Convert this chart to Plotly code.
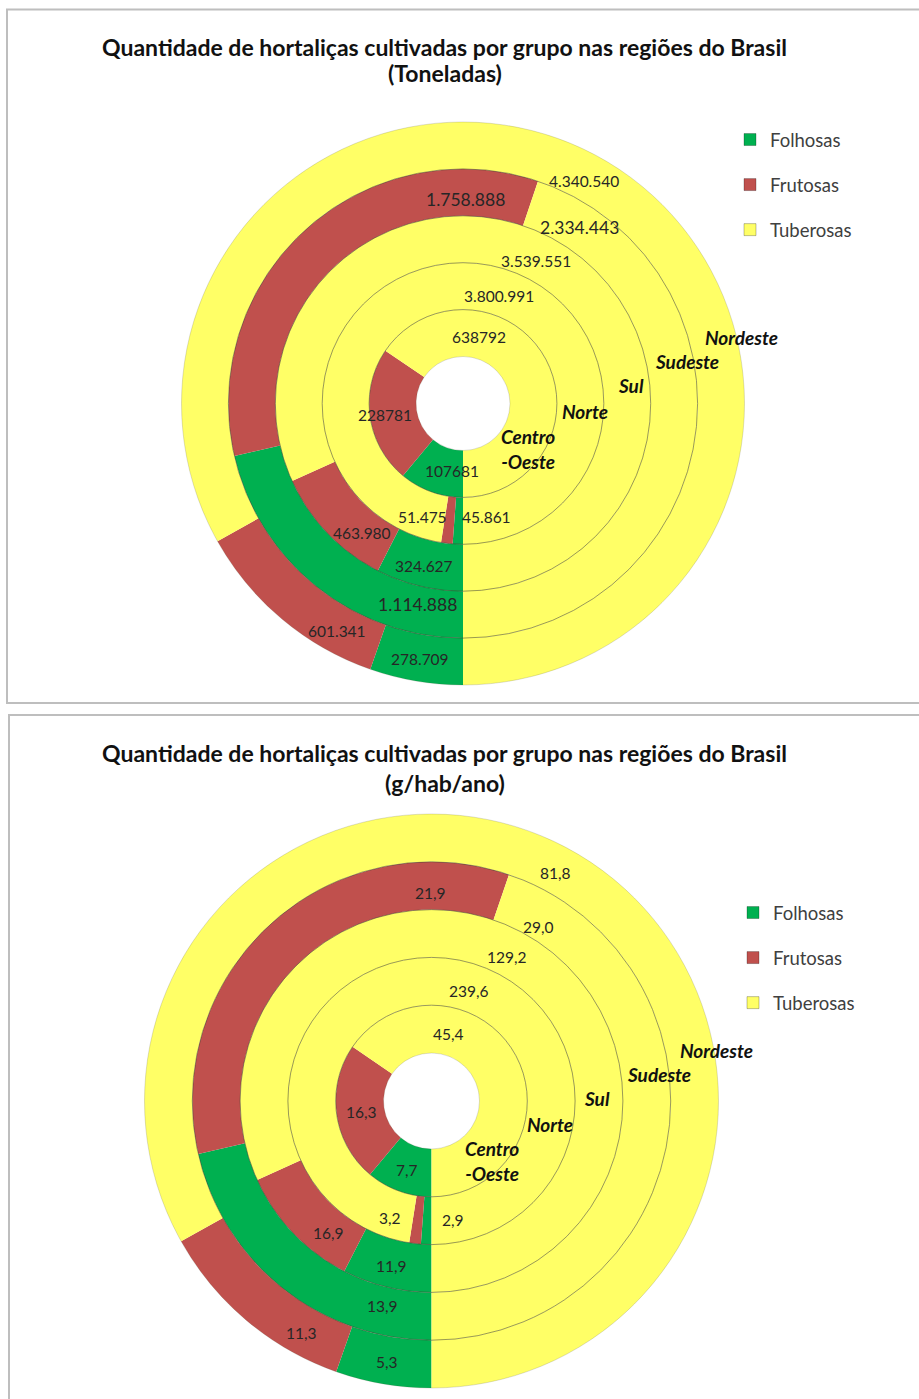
import plotly.graph_objects as go

# ---------------------------------------------------------------- data
regions = ["Centro-Oeste", "Norte", "Sul", "Sudeste", "Nordeste"]  # inner -> outer ring
groups = ["Folhosas", "Frutosas", "Tuberosas"]

# Toneladas
ton_folhosas = [107681, 45861, 324627, 1114888, 278709]
ton_frutosas = [228781, 51475, 463980, 1758888, 601341]
ton_tuberosas = [638792, 3800991, 3539551, 2334443, 4340540]

# g/hab/ano
gha_folhosas = [7.7, 2.9, 11.9, 13.9, 5.3]
gha_frutosas = [16.3, 3.2, 16.9, 21.9, 11.3]
gha_tuberosas = [45.4, 239.6, 129.2, 29.0, 81.8]

titles = [
    "Quantidade de hortaliças cultivadas por grupo nas regiões do Brasil",
    "Quantidade de hortaliças cultivadas por grupo nas regiões do Brasil",
]
subtitles = ["(Toneladas)", "(g/hab/ano)"]

# ---------------------------------------------------------------- style
W, H = 919, 1399
FONT = "Lato"
COLORS = ["#00B050", "#C0504D", "#FFFF66"]
TEXT = "#262626"


def fmt_ton(v, ring):
    # the innermost ring is printed without thousands separators
    return f"{v}" if ring == 0 else f"{v:,}".replace(",", ".")


def fmt_gha(v, ring):
    return f"{v:.1f}".replace(".", ",")


# label placement, pixel offsets (dx, dy) from each chart centre, per ring
ton_label_pos = {
    "Folhosas": [(-11, 67.5), (23, 113.5), (-39, 162), (-46, 201.5), (-43, 255.5)],
    "Frutosas": [(-78, 11.5), (-41, 113), (-101, 129), (3, -204), (-126, 228)],
    "Tuberosas": [(16, -67), (36, -108), (73, -142), (116, -176), (121, -223)],
}
gha_label_pos = {
    "Folhosas": [(-25, 69), (21, 118.5), (-40, 165), (-49, 205), (-45, 260.5)],
    "Frutosas": [(-70, 10.5), (-41.5, 116.5), (-103, 132), (-1, -208), (-130, 231.5)],
    "Tuberosas": [(17, -67), (37, -110.5), (75, -144.5), (107, -174.5), (123.5, -228)],
}
ton_region_pos = [(65, 45), (122, 7.5), (168, -18), (224, -42), (278, -65.5)]
gha_region_pos = [(61, 60), (118.5, 23), (165.5, -3), (227, -26.5), (285, -50.5)]

charts = [
    dict(
        cx=463, cy=403.5, hole=47, outer=281.5,
        series=[ton_folhosas, ton_frutosas, ton_tuberosas], fmt=fmt_ton,
        label_pos=ton_label_pos, region_pos=ton_region_pos,
        big_ring=3, title_y=(47, 73), legend="legend",
        box=(7, 9.5, 940, 703),
    ),
    dict(
        cx=431.5, cy=1101, hole=48, outer=287,
        series=[gha_folhosas, gha_frutosas, gha_tuberosas], fmt=fmt_gha,
        label_pos=gha_label_pos, region_pos=gha_region_pos,
        big_ring=None, title_y=(753, 783), legend="legend2",
        box=(9, 715, 940, 1420),
    ),
]


def px(x):
    return x / W


def py(y):
    return 1 - y / H


def label(text, x, y, size, color=TEXT):
    return dict(text=text, x=px(x), y=py(y), xref="paper", yref="paper",
                xanchor="center", yanchor="middle", showarrow=False,
                font=dict(family=FONT, size=size, color=color))


fig = go.Figure()
shapes, annotations = [], []

for ci, ch in enumerate(charts):
    cx, cy = ch["cx"], ch["cy"]
    step = (ch["outer"] - ch["hole"]) / len(regions)
    radii = [ch["hole"] + k * step for k in range(len(regions) + 1)]

    # frame around each chart
    x0, y0, x1, y1 = ch["box"]
    shapes.append(dict(type="rect", xref="paper", yref="paper",
                       x0=px(x0), x1=px(x1), y0=py(y1), y1=py(y0),
                       line=dict(color="#BEBEBE", width=2), layer="below"))

    # one doughnut ring per region
    for k, region in enumerate(regions):
        r_in, r_out = radii[k], radii[k + 1]
        vals = [s[k] for s in ch["series"]]
        fig.add_trace(go.Pie(
            values=vals, labels=groups, name=region,
            marker=dict(colors=COLORS, line=dict(width=0)),
            hole=r_in / r_out, sort=False, direction="clockwise", rotation=180,
            textinfo="none", hovertemplate=region + "<br>%{label}: %{value}<extra></extra>",
            showlegend=False,
            domain=dict(x=[px(cx - r_out), px(cx + r_out)],
                        y=[py(cy + r_out), py(cy - r_out)]),
        ))

    # ring separators
    for k, r in enumerate(radii):
        edge = k in (0, len(radii) - 1)
        shapes.append(dict(type="circle", xref="paper", yref="paper",
                           x0=px(cx - r), x1=px(cx + r), y0=py(cy + r), y1=py(cy - r),
                           line=dict(color="rgba(70,70,50,0.18)" if edge else "rgba(70,70,50,0.55)",
                                     width=1)))

    # value labels
    for gi, g in enumerate(groups):
        for k in range(len(regions)):
            dx, dy = ch["label_pos"][g][k]
            size = 17.5 if ch["big_ring"] == k else 15.5
            annotations.append(label(ch["fmt"](ch["series"][gi][k], k), cx + dx, cy + dy, size))

    # region names
    for k, region in enumerate(regions):
        dx, dy = ch["region_pos"][k]
        name = region.replace("-", "<br>-")
        annotations.append(label(f"<b><i>{name}</i></b>", cx + dx, cy + dy, 19, "#111111"))

    # titles
    ty1, ty2 = ch["title_y"]
    for txt, ty in ((titles[ci], ty1), (subtitles[ci], ty2)):
        annotations.append(label(f"<b>{txt}</b>", 444.5, ty, 23, "#111111"))

    # legend entries
    for g, c in zip(groups, COLORS):
        fig.add_trace(go.Scatter(
            x=[None], y=[None], mode="markers", name=g,
            legendgroup=f"{g}-{ci}", legend=ch["legend"], showlegend=True,
            marker=dict(symbol="square", size=12, color=c,
                        line=dict(width=1, color="rgba(0,0,0,0.25)")),
            hoverinfo="skip"))

legend_common = dict(
    xanchor="left", yanchor="top", traceorder="grouped", tracegroupgap=18,
    bgcolor="rgba(0,0,0,0)", borderwidth=0,
    font=dict(family=FONT, size=18.5, color="#404040"), itemclick=False,
)

fig.update_layout(
    width=W, height=H,
    margin=dict(l=0, r=0, t=0, b=0),
    paper_bgcolor="white", plot_bgcolor="white",
    shapes=shapes, annotations=annotations,
    xaxis=dict(visible=False), yaxis=dict(visible=False),
    legend=dict(x=px(730), y=py(121), **legend_common),
    legend2=dict(x=px(733), y=py(894), **legend_common),
)

fig.write_html("out.html")
